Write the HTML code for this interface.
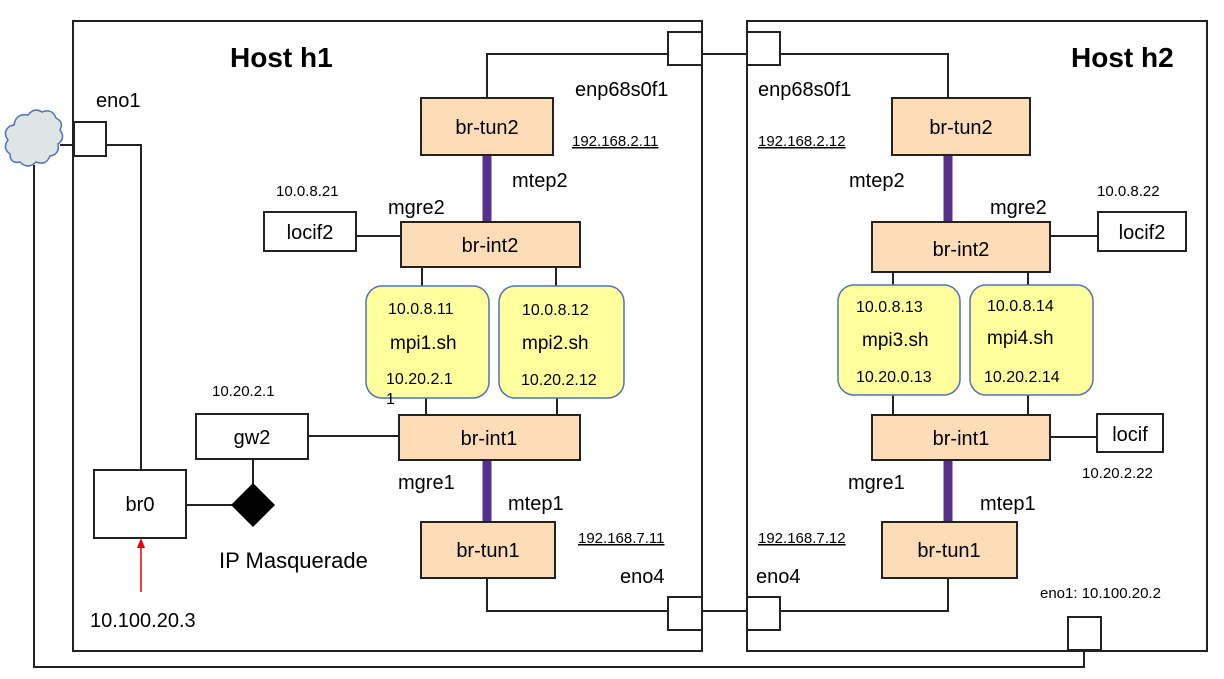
<!DOCTYPE html>
<html><head><meta charset="utf-8"><style>
html,body{margin:0;padding:0;background:#fff;}
svg{display:block;font-family:"Liberation Sans",Arial,sans-serif;}
</style></head><body>
<svg width="1224" height="679" viewBox="0 0 1224 679" xmlns="http://www.w3.org/2000/svg">
<g fill="none" stroke="#222" stroke-width="2">
<!-- hosts -->
<rect x="73" y="21" width="629" height="630" fill="#fff"/>
<rect x="747" y="21" width="460" height="630" fill="#fff"/>
<!-- top link -->
<polyline points="487,98 487,54 668,54"/>
<line x1="702" y1="54" x2="747" y2="54"/>
<polyline points="780,54 948,54 948,98"/>
<!-- bottom link -->
<polyline points="487,578 487,611 668,611"/>
<line x1="702" y1="611" x2="747" y2="611"/>
<polyline points="780,611 948,611 948,578"/>
<!-- eno1 left -->
<line x1="60" y1="145" x2="74" y2="145"/>
<polyline points="106,145 141,145 141,470"/>
<polyline points="34,165 34,667 1084,667 1084,650"/>
<!-- h1 internals -->
<line x1="356" y1="236" x2="401" y2="236"/>
<line x1="422" y1="267" x2="422" y2="287"/>
<line x1="556" y1="267" x2="556" y2="287"/>
<line x1="426" y1="398" x2="426" y2="415"/>
<line x1="557" y1="398" x2="557" y2="415"/>
<line x1="308" y1="436" x2="399" y2="436"/>
<line x1="253" y1="459" x2="253" y2="484"/>
<line x1="186" y1="505" x2="232" y2="505"/>
<!-- h2 internals -->
<line x1="1050" y1="236" x2="1098" y2="236"/>
<line x1="893" y1="272" x2="893" y2="286"/>
<line x1="1028" y1="272" x2="1028" y2="286"/>
<line x1="893" y1="395" x2="893" y2="415"/>
<line x1="1028" y1="395" x2="1028" y2="415"/>
<line x1="1050" y1="437" x2="1097" y2="437"/>
</g>
<!-- purple links -->
<g stroke="#55308d" stroke-width="9">
<line x1="487" y1="155" x2="487" y2="222"/>
<line x1="487" y1="460" x2="487" y2="522"/>
<line x1="948" y1="155" x2="948" y2="222"/>
<line x1="948" y1="460" x2="948" y2="522"/>
</g>
<!-- ports -->
<g fill="#fff" stroke="#222" stroke-width="2">
<rect x="668" y="32" width="34" height="33"/>
<rect x="747" y="32" width="33" height="33"/>
<rect x="668" y="597" width="34" height="33"/>
<rect x="747" y="597" width="33" height="33"/>
<rect x="74" y="122" width="32" height="34"/>
<rect x="1068" y="617" width="33" height="33"/>
<!-- white boxes -->
<rect x="264" y="212" width="92" height="39"/>
<rect x="196" y="414" width="112" height="45"/>
<rect x="94" y="470" width="92" height="68"/>
<rect x="1098" y="212" width="88" height="39"/>
<rect x="1097" y="414" width="66" height="38"/>
</g>
<!-- orange bridges -->
<g fill="#fddcb8" stroke="#222" stroke-width="2">
<rect x="421" y="98" width="132" height="57"/>
<rect x="401" y="222" width="179" height="45"/>
<rect x="399" y="415" width="181" height="45"/>
<rect x="421" y="522" width="134" height="56"/>
<rect x="892" y="98" width="138" height="57"/>
<rect x="872" y="222" width="178" height="50"/>
<rect x="872" y="415" width="178" height="45"/>
<rect x="882" y="522" width="135" height="56"/>
</g>
<!-- yellow -->
<g fill="#ffff9e" stroke="#4f74b5" stroke-width="1.5">
<rect x="366" y="286" width="123" height="112" rx="16"/>
<rect x="499" y="286" width="125" height="112" rx="16"/>
<rect x="838" y="285" width="122" height="110" rx="16"/>
<rect x="970" y="285" width="123" height="110" rx="16"/>
</g>
<!-- diamond -->
<polygon points="253,483 275,505 253,527 231,505" fill="#000"/>
<!-- red arrow -->
<line x1="141" y1="592" x2="141" y2="546" stroke="#e00" stroke-width="1.5"/>
<polygon points="141,538 137,548 145,548" fill="#e00"/>
<!-- cloud -->
<path d="M14,125 q2,-12 14,-10 q6,-8 14,-3 q10,-4 14,6 q8,4 4,12 q6,8 -2,14 q2,10 -8,12 q-4,10 -14,6 q-8,8 -16,0 q-10,2 -10,-8 q-8,-6 -2,-14 q-6,-8 2,-14 z" fill="#dfe4e4" stroke="#4f74b5" stroke-width="1.5"/>
<!-- text -->
<g fill="#000" font-size="20">
<text x="230" y="67" font-size="28" font-weight="bold">Host h1</text>
<text x="1071" y="67" font-size="28" font-weight="bold">Host h2</text>
<text x="96" y="107">eno1</text>
<text x="575" y="96">enp68s0f1</text>
<text x="758" y="96">enp68s0f1</text>
<text x="487" y="134" text-anchor="middle">br-tun2</text>
<text x="961" y="134" text-anchor="middle">br-tun2</text>
<text x="512" y="187">mtep2</text>
<text x="849" y="187">mtep2</text>
<text x="388" y="214">mgre2</text>
<text x="990" y="214">mgre2</text>
<text x="310" y="239" text-anchor="middle">locif2</text>
<text x="1142" y="239" text-anchor="middle">locif2</text>
<text x="490" y="252" text-anchor="middle">br-int2</text>
<text x="961" y="256" text-anchor="middle">br-int2</text>
<text x="489" y="445" text-anchor="middle">br-int1</text>
<text x="961" y="445" text-anchor="middle">br-int1</text>
<text x="1130" y="441" text-anchor="middle">locif</text>
<text x="252" y="444" text-anchor="middle">gw2</text>
<text x="140" y="511" text-anchor="middle">br0</text>
<text x="398" y="489">mgre1</text>
<text x="848" y="489">mgre1</text>
<text x="508" y="510">mtep1</text>
<text x="980" y="510">mtep1</text>
<text x="488" y="557" text-anchor="middle">br-tun1</text>
<text x="949" y="557" text-anchor="middle">br-tun1</text>
<text x="620" y="583">eno4</text>
<text x="756" y="583">eno4</text>
<text x="219" y="568" font-size="22">IP Masquerade</text>
<text x="90" y="627">10.100.20.3</text>
<text x="390" y="349" font-size="19">mpi1.sh</text>
<text x="522" y="349" font-size="19">mpi2.sh</text>
<text x="862" y="346" font-size="19">mpi3.sh</text>
<text x="987" y="344" font-size="19">mpi4.sh</text>
</g>
<g fill="#000" font-size="15">
<text x="276" y="196">10.0.8.21</text>
<text x="1097" y="196">10.0.8.22</text>
<text x="212" y="396">10.20.2.1</text>
<text x="1082" y="478">10.20.2.22</text>
<text x="1040" y="598">eno1: 10.100.20.2</text>
<text x="388" y="314" font-size="16">10.0.8.11</text>
<text x="522" y="315" font-size="16">10.0.8.12</text>
<text x="386" y="384" font-size="16">10.20.2.1</text>
<text x="386" y="404" font-size="16">1</text>
<text x="521" y="385" font-size="16">10.20.2.12</text>
<text x="856" y="312" font-size="16">10.0.8.13</text>
<text x="987" y="311" font-size="16">10.0.8.14</text>
<text x="856" y="382" font-size="16">10.20.0.13</text>
<text x="984" y="382" font-size="16">10.20.2.14</text>
<text x="572" y="146" text-decoration="underline">192.168.2.11</text>
<text x="758" y="146" text-decoration="underline">192.168.2.12</text>
<text x="578" y="543" text-decoration="underline">192.168.7.11</text>
<text x="758" y="543" text-decoration="underline">192.168.7.12</text>
</g>
</svg>
</body></html>
